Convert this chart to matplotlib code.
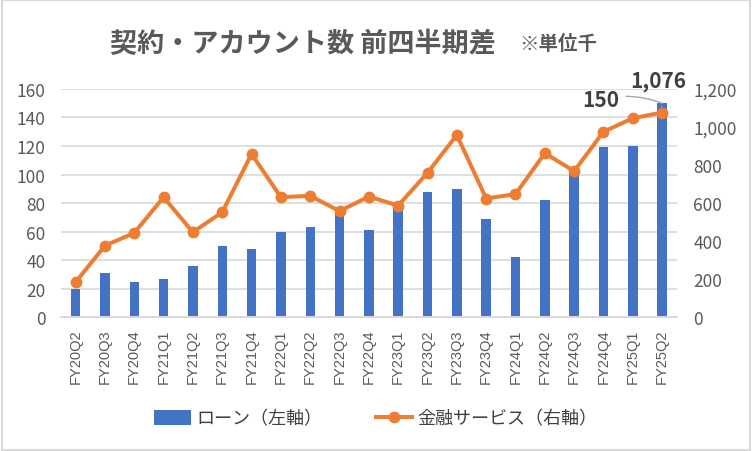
import matplotlib
matplotlib.use('Agg')
import matplotlib.pyplot as plt
from matplotlib.patches import Rectangle
from matplotlib.ticker import FuncFormatter

plt.rcParams['font.family'] = ['Noto Sans CJK JP', 'DejaVu Sans']

# data
quarters = ['FY20Q2', 'FY20Q3', 'FY20Q4', 'FY21Q1', 'FY21Q2', 'FY21Q3', 'FY21Q4',
            'FY22Q1', 'FY22Q2', 'FY22Q3', 'FY22Q4', 'FY23Q1', 'FY23Q2', 'FY23Q3',
            'FY23Q4', 'FY24Q1', 'FY24Q2', 'FY24Q3', 'FY24Q4', 'FY25Q1', 'FY25Q2']
loan = [20, 31, 25, 27, 36, 50, 48, 60, 63, 74, 61, 77, 88, 90,
        69, 42, 82, 101, 119, 120, 150]
finance = [184, 376, 443, 631, 447, 552, 858, 631, 638, 558, 634, 587, 759, 958,
           624, 647, 862, 768, 975, 1046, 1076]

title_main = '契約・アカウント数 前四半期差'
title_unit = '※単位千'
loan_label = 'ローン（左軸）'
finance_label = '金融サービス（右軸）'

grey_txt = '#595959'
bar_col = '#4472C4'
line_col = '#ED7D31'
grid_col = '#D9D9D9'

fig = plt.figure(figsize=(7.52, 4.52), dpi=100)
ax = fig.add_axes([0.081, 0.296, 0.819, 0.505])
ax2 = ax.twinx()

x = list(range(len(quarters)))
ax.bar(x, loan, width=0.32, color=bar_col, label=loan_label, zorder=2)
ax2.plot(x, finance, color=line_col, lw=2.9, marker='o', ms=7.5,
         label=finance_label, zorder=3)

ax.set_xlim(-0.5, len(quarters) - 0.5)
ax.set_ylim(0, 160)
ax2.set_ylim(0, 1200)
ax.set_yticks(range(0, 161, 20))
ax2.set_yticks(range(0, 1201, 200))
ax2.yaxis.set_major_formatter(FuncFormatter(lambda v, p: f'{int(v):,}'))

ax.set_xticks(x)
ax.set_xticklabels(quarters, rotation=90, fontsize=10.5, color=grey_txt,
                   family=['Liberation Sans', 'DejaVu Sans'])
ax.tick_params(axis='x', length=0, pad=8)
ax.tick_params(axis='y', length=0, labelsize=12.5, labelcolor=grey_txt, pad=11)
ax2.tick_params(axis='y', length=0, labelsize=12.5, labelcolor=grey_txt, pad=12)

ax.grid(axis='y', color=grid_col, lw=1.2, zorder=0)
ax.set_axisbelow(True)
for a in (ax, ax2):
    for s in ['top', 'left', 'right']:
        a.spines[s].set_visible(False)
    a.spines['bottom'].set_color(grid_col)
    a.spines['bottom'].set_linewidth(1.2)
ax.set_zorder(ax2.get_zorder() - 1)
ax.patch.set_visible(False)
ax2.patch.set_visible(False)

# value labels for last quarter
last = len(quarters) - 1
ax.annotate(f'{loan[last]:,}', xy=(last, loan[last]), xytext=(-31, 3),
            textcoords='offset points', ha='right', va='center',
            fontsize=15, fontweight='bold', color='#404040',
            arrowprops=dict(arrowstyle='-', color='#A6A6A6', lw=1,
                            connectionstyle='arc3,rad=-0.15', shrinkA=3, shrinkB=0))
ax2.annotate(f'{finance[last]:,}', xy=(last, finance[last]), xytext=(-3, 23),
             textcoords='offset points', ha='center', va='center',
             fontsize=15, fontweight='bold', color='#404040',
             arrowprops=dict(arrowstyle='-', color='#A6A6A6', lw=1,
                             shrinkA=9, shrinkB=4))

fig.text(0.146, 0.902, title_main, fontsize=19.5, fontweight='bold', color=grey_txt,
         va='center', ha='left')
fig.text(0.69, 0.902, title_unit, fontsize=14, fontweight='bold', color=grey_txt,
         va='center', ha='left')

h1, l1 = ax.get_legend_handles_labels()
h2, l2 = ax2.get_legend_handles_labels()
fig.legend(h1 + h2, l1 + l2, loc='center', bbox_to_anchor=(0.5, 0.072), ncol=2,
           frameon=False, fontsize=13, labelcolor='#404040', handlelength=2.0,
           handleheight=0.9, handletextpad=0.3, columnspacing=3.0)

fig.patches.append(Rectangle((0.002, 0.003), 0.996, 0.994, transform=fig.transFigure,
                             fill=False, edgecolor=grid_col, lw=1.5))

fig.savefig('out.png', dpi=100)
